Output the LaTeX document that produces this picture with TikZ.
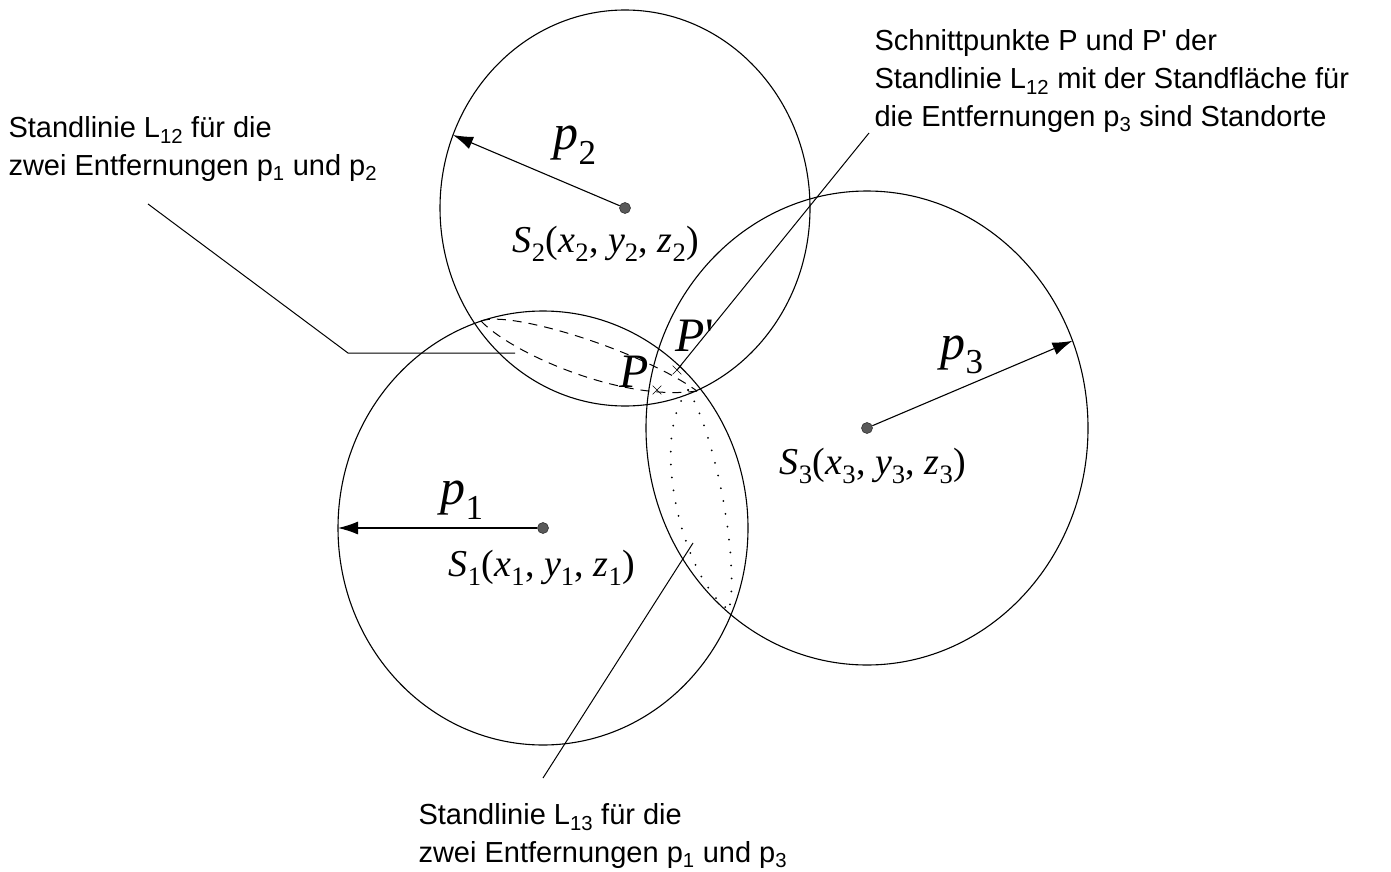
\documentclass[tikz,border=0pt]{standalone}
\usepackage{fontspec}
\setmainfont{Liberation Sans}
\newfontfamily\lblfont{Liberation Serif}
\newcommand{\mysub}[2]{\textit{#1}\textsubscript{#2}}
\usetikzlibrary{arrows.meta,shapes.geometric,shapes.misc}
\begin{document}
\begin{tikzpicture}[x=1pt,y=-1pt,line width=1.1pt,
  circ/.style={draw, ellipse, inner sep=0pt, outer sep=0pt},
  ctr/.style={circle, fill=black!65, draw=black!80, line width=0.6pt, inner sep=0pt, minimum size=11pt},
  radarrow/.style={-{Latex[length=20pt,width=13pt]}, line width=1.1pt},
  lbl/.style={font=\fontsize{29}{37.5}\selectfont, align=left, inner sep=0pt, anchor=base west},
  plbl/.style={font=\lblfont\fontsize{50}{55}\selectfont, inner sep=0pt},
  slbl/.style={font=\lblfont\fontsize{38}{42}\selectfont, inner sep=0pt},
  ptlbl/.style={font=\lblfont\itshape\fontsize{48}{52}\selectfont, inner sep=0pt},
  xmark/.style={draw, cross out, minimum size=8pt, inner sep=0pt, line width=0.6pt},
  dashlens/.style={line width=1pt, dash pattern=on 9pt off 7pt},
  dotlens/.style={line width=2pt, line cap=round, dash pattern=on 0pt off 13pt},
  leader/.style={line width=1pt}
]
\path[use as bounding box] (0,0) rectangle (1391,872);

% spheres
\node[circ, minimum width=410pt, minimum height=434pt] (c1) at (543,528) {};
\node[circ, minimum width=370pt, minimum height=396pt] (c2) at (625,208) {};
\node[circ, minimum width=442pt, minimum height=474pt] (c3) at (867,428) {};

% centres
\node[ctr] (s1) at (543,528) {};
\node[ctr] (s2) at (625,208) {};
\node[ctr] (s3) at (867,428) {};

% radii
\draw[radarrow] (s1) -- (c1.west);
\draw[radarrow] (s2) -- (c2.157);
\draw[radarrow] (s3) -- (c3.23);

\node[plbl] (lp1) at (462,500) {\mysub{p}{1}};
\node[plbl] (lp2) at (575,145) {\mysub{p}{2}};
\node[plbl] (lp3) at (962,355) {\mysub{p}{3}};

\node[slbl] (ls1) at (542,568) {\mysub{S}{1}(\mysub{x}{1}, \mysub{y}{1}, \mysub{z}{1})};
\node[slbl] (ls2) at (606,244) {\mysub{S}{2}(\mysub{x}{2}, \mysub{y}{2}, \mysub{z}{2})};
\node[slbl] (ls3) at (873,466) {\mysub{S}{3}(\mysub{x}{3}, \mysub{y}{3}, \mysub{z}{3})};

% Standlinie L12 (dashed lens)
\coordinate (a1) at (481,321);
\coordinate (a2) at (697,391);
\draw[dashlens] (a1) .. controls (510,310) and (640,350) .. (a2);
\draw[dashlens] (a1) .. controls (510,352) and (620,402) .. (a2);

% Standlinie L13 (dotted lens)
\coordinate (b1) at (688,390);
\coordinate (b2) at (729,610);
\draw[dotlens] (b1) .. controls (648,440) and (684,580) .. (b2);
\draw[dotlens] (b1) .. controls (714,430) and (740,560) .. (b2);

% intersection points P and P'
\node[xmark] (mP) at (657,390) {};
\node[xmark] (mPp) at (677,370) {};
\node[ptlbl] (lP) at (634,372) {P};
\node[ptlbl] (lPp) at (695,336) {P\kern1pt\upshape\textquotesingle};

% labels
\node[lbl] (t12) at (8,175) {Standlinie L\textsubscript{12} für die\\zwei Entfernungen p\textsubscript{1} und p\textsubscript{2}};
\node[lbl] (t13) at (418,862) {Standlinie L\textsubscript{13} für die\\zwei Entfernungen p\textsubscript{1} und p\textsubscript{3}};
\node[lbl] (tP) at (874,126) {Schnittpunkte P und P\textquotesingle{} der\\Standlinie L\textsubscript{12} mit der Standfläche für\\die Entfernungen p\textsubscript{3} sind Standorte};

% leader lines
\coordinate (k1) at (148,204);
\coordinate (k2) at (348,353);
\coordinate (k3) at (515,353);
\draw[leader] (k1) -- (k2) -- (k3);
\coordinate (q1) at (543,778);
\coordinate (q2) at (693,543);
\draw[leader] (q1) -- (q2);
\coordinate (r1) at (869,133);
\draw[leader] (r1) -- (mPp.center);
\end{tikzpicture}
\end{document}
